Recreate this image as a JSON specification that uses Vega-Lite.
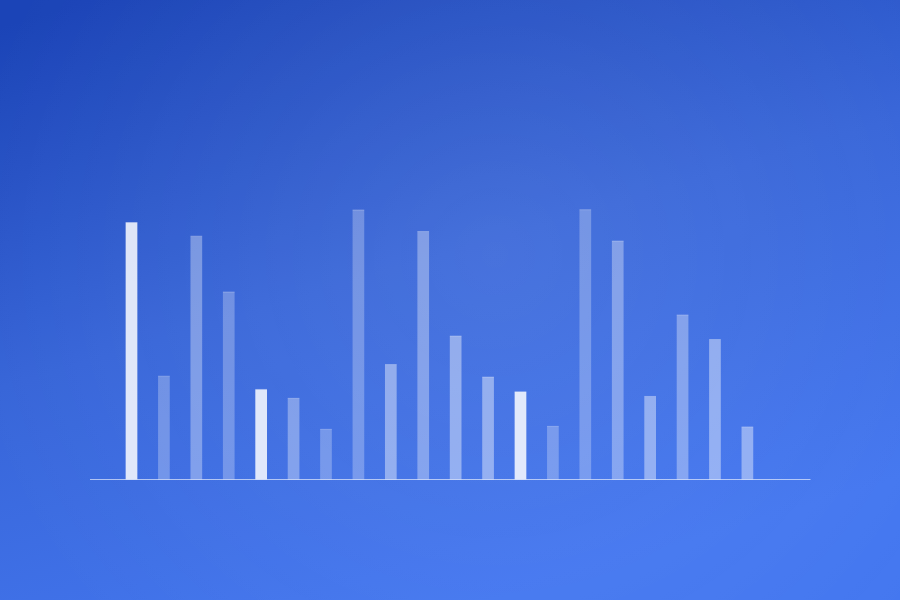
{
  "$schema": "https://vega.github.io/schema/vega-lite/v6.json",
  "width": 900,
  "height": 600,
  "autosize": {"type": "fit", "contains": "padding"},
  "padding": 0,
  "config": {
    "view": {
      "stroke": null,
      "fill": {
        "gradient": "linear",
        "x1": 0.1, "y1": 0, "x2": 0.55, "y2": 1,
        "stops": [
          {"offset": 0, "color": "#1b44b7"},
          {"offset": 0.5, "color": "#3765d8"},
          {"offset": 1, "color": "#4477f0"}
        ]
      }
    }
  },
  "data": {
    "values": [
      {"i": 0, "value": 95.3, "tier": "high"},
      {"i": 1, "value": 38.3, "tier": "low"},
      {"i": 2, "value": 90.2, "tier": "base"},
      {"i": 3, "value": 69.5, "tier": "low"},
      {"i": 4, "value": 33.4, "tier": "high"},
      {"i": 5, "value": 30.1, "tier": "base"},
      {"i": 6, "value": 18.6, "tier": "low"},
      {"i": 7, "value": 99.9, "tier": "low"},
      {"i": 8, "value": 42.6, "tier": "mid"},
      {"i": 9, "value": 91.9, "tier": "base"},
      {"i": 10, "value": 53.2, "tier": "mid"},
      {"i": 11, "value": 38.0, "tier": "mid"},
      {"i": 12, "value": 32.5, "tier": "high"},
      {"i": 13, "value": 19.7, "tier": "low"},
      {"i": 14, "value": 100.0, "tier": "low"},
      {"i": 15, "value": 88.4, "tier": "base"},
      {"i": 16, "value": 30.8, "tier": "mid"},
      {"i": 17, "value": 61.0, "tier": "base"},
      {"i": 18, "value": 51.9, "tier": "mid"},
      {"i": 19, "value": 19.5, "tier": "mid"}
    ]
  },
  "layer": [
    {
      "data": {"values": [{}]},
      "mark": {
        "type": "rect",
        "fill": {
          "gradient": "radial",
          "x1": 0.55, "y1": 0.45, "r1": 0,
          "x2": 0.55, "y2": 0.45, "r2": 0.6,
          "stops": [
            {"offset": 0, "color": "rgba(255,255,255,0.08)"},
            {"offset": 1, "color": "rgba(255,255,255,0)"}
          ]
        }
      },
      "encoding": {}
    },
    {
      "data": {"values": [{}]},
      "mark": {"type": "rule", "color": "white", "strokeOpacity": 0.6, "strokeWidth": 1.2},
      "encoding": {
        "x": {"datum": -1.2803, "type": "quantitative", "scale": {"domain": [-4.0568, 23.708], "nice": false, "zero": false, "padding": 0}, "axis": null},
        "x2": {"datum": 20.947},
        "y": {"datum": 0, "type": "quantitative", "scale": {"domain": [-44.66, 177.73], "nice": false, "zero": false, "padding": 0}, "axis": null}
      }
    },
    {
      "mark": {"type": "bar", "color": "white", "width": 11.7},
      "encoding": {
        "x": {"field": "i", "type": "quantitative", "scale": {"domain": [-4.0568, 23.708], "nice": false, "zero": false, "padding": 0}, "axis": null},
        "y": {"field": "value", "type": "quantitative", "scale": {"domain": [-44.66, 177.73], "nice": false, "zero": false, "padding": 0}, "axis": null},
        "y2": {"datum": 0},
        "opacity": {
          "field": "tier",
          "type": "nominal",
          "scale": {"type": "ordinal", "domain": ["low", "base", "mid", "high"], "range": [0.27, 0.34, 0.42, 0.84]},
          "legend": null
        }
      }
    },
    {
      "mark": {"type": "tick", "color": "white", "orient": "horizontal", "size": 11.7, "thickness": 1, "opacity": 0.25},
      "encoding": {
        "x": {"field": "i", "type": "quantitative", "scale": {"domain": [-4.0568, 23.708], "nice": false, "zero": false, "padding": 0}, "axis": null},
        "y": {"field": "value", "type": "quantitative", "scale": {"domain": [-44.66, 177.73], "nice": false, "zero": false, "padding": 0}, "axis": null}
      }
    }
  ]
}
